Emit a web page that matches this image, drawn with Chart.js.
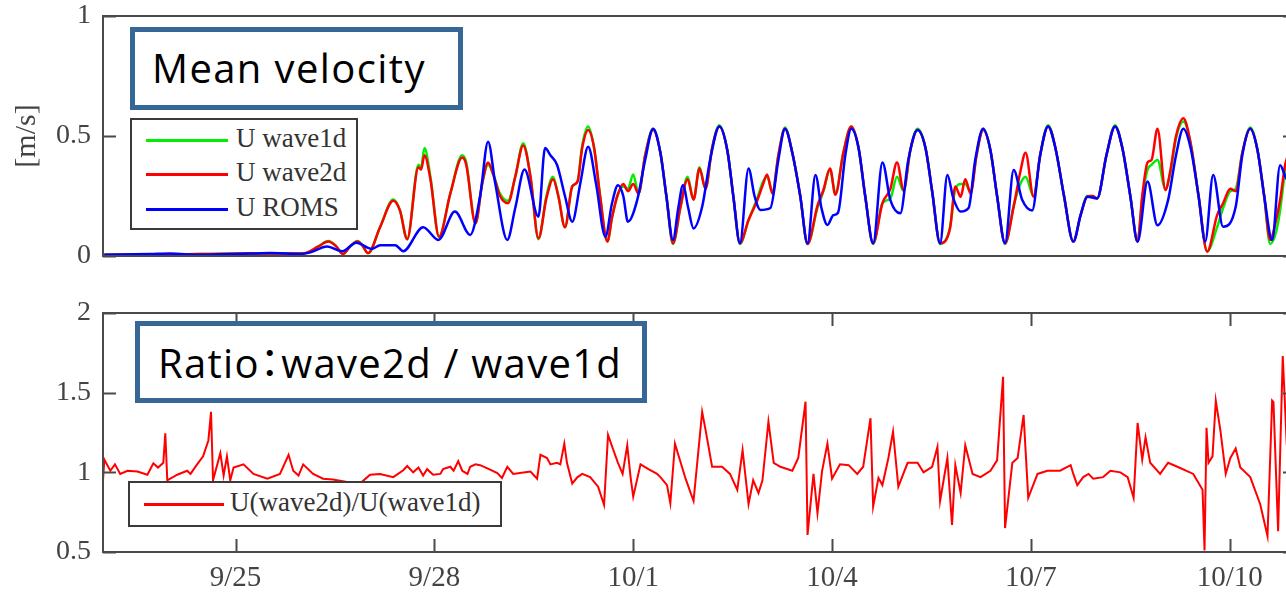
<!DOCTYPE html>
<html>
<head>
<meta charset="utf-8">
<script src="https://cdn.jsdelivr.net/npm/chart.js@4.4.1/dist/chart.umd.min.js"></script>
<style>
html,body{margin:0;padding:0;background:#fff;overflow:hidden;width:1286px;height:598px;}
#wrap{position:relative;width:1300px;height:598px;overflow:hidden;}
canvas{position:absolute;left:0;}
#c1{top:0;}
#c2{top:290px;}
.note{position:absolute;border:5px solid #366797;background:#fff;box-sizing:border-box;font-family:'Open Sans','Noto Sans',sans-serif;color:#000;white-space:nowrap;}
.note span.t{position:absolute;line-height:1;}
.palt{font-family:'Noto Sans CJK JP','Open Sans',sans-serif;font-feature-settings:"palt";}
.legend{position:absolute;border:2px solid #3a3a3a;background:#fff;box-sizing:border-box;font-family:'Liberation Serif','Times New Roman',serif;color:#333;}
.legend .sw{position:absolute;height:3px;}
.legend .lt{position:absolute;line-height:1;white-space:nowrap;}
</style>
</head>
<body>
<div id="wrap">
  <canvas id="c1" width="1300" height="270"></canvas>
  <canvas id="c2" width="1300" height="308"></canvas>
  <div class="note" style="left:130px;top:27px;width:333px;height:83px;">
    <span class="t" style="left:17px;top:16px;font-size:40px;letter-spacing:1.4px;">Mean velocity</span>
  </div>
  <div class="note" style="left:135px;top:321px;width:512px;height:82px;">
    <span class="t" style="left:18px;top:15px;font-size:40px;letter-spacing:1.3px;">Ratio<span class="palt">：</span>wave2d / wave1d</span>
  </div>
  <div class="legend" id="leg1" style="left:130px;top:118px;width:228px;height:112px;"></div>
  <div class="legend" id="leg2" style="left:128px;top:481px;width:374px;height:46px;"></div>
</div>
<script>
// ---- x axis (days since 9/23 00:00) ----
const xTickDays   = [2, 5, 8, 11, 14, 17];
const xTickLabels = ['9/25', '9/28', '10/1', '10/4', '10/7', '10/10'];
const xMin = 0, xMax = 18;

// ---- top panel: mean velocity [m/s] ----
const velTicks = [0, 0.5, 1];
const tVel = [0.02,0.71,1.47,2.22,2.82,3.05,3.25,3.40,3.52,3.62,3.73,3.84,3.91,4.00,4.18,4.38,4.48,4.59,4.76,4.80,4.85,4.94,5.07,5.24,5.42,5.48,5.62,5.72,5.81,5.90,5.99,6.11,6.22,6.34,6.45,6.57,6.69,6.79,6.87,6.97,7.08,7.16,7.23,7.32,7.41,7.50,7.61,7.68,7.76,7.85,7.92,8.00,8.08,8.18,8.30,8.41,8.50,8.60,8.71,8.82,8.91,9.00,9.09,9.19,9.30,9.42,9.51,9.61,9.74,9.87,9.96,10.02,10.10,10.19,10.29,10.40,10.52,10.63,10.78,10.87,10.97,11.05,11.17,11.29,11.40,11.50,11.62,11.76,11.88,11.98,12.08,12.18,12.29,12.41,12.51,12.63,12.78,12.86,12.94,13.01,13.09,13.18,13.28,13.39,13.49,13.61,13.74,13.84,13.92,14.04,14.14,14.26,14.37,14.50,14.64,14.75,14.85,14.93,15.00,15.14,15.27,15.38,15.50,15.61,15.68,15.76,15.82,15.91,16.03,16.10,16.19,16.30,16.41,16.53,16.66,16.81,16.90,17.01,17.09,17.19,17.31,17.42,17.52,17.61,17.70,17.76,17.84,17.94];
const uWave2d = [0.005,0.005,0.008,0.01,0.01,0.012,0.04,0.06,0.04,0.008,0.04,0.06,0.045,0.012,0.12,0.23,0.19,0.07,0.37,0.36,0.42,0.32,0.08,0.26,0.41,0.38,0.136,0.30,0.39,0.33,0.25,0.22,0.33,0.46,0.33,0.074,0.24,0.32,0.25,0.12,0.29,0.31,0.45,0.525,0.45,0.25,0.06,0.16,0.25,0.30,0.27,0.30,0.26,0.42,0.525,0.43,0.25,0.053,0.20,0.32,0.235,0.365,0.28,0.45,0.54,0.44,0.25,0.053,0.15,0.23,0.30,0.34,0.26,0.42,0.53,0.43,0.25,0.05,0.21,0.275,0.365,0.255,0.43,0.54,0.45,0.25,0.053,0.22,0.28,0.39,0.275,0.44,0.525,0.45,0.27,0.053,0.115,0.29,0.247,0.32,0.26,0.42,0.525,0.44,0.25,0.053,0.205,0.35,0.43,0.247,0.42,0.54,0.45,0.25,0.06,0.17,0.247,0.25,0.24,0.42,0.54,0.45,0.25,0.06,0.25,0.39,0.40,0.53,0.275,0.35,0.50,0.574,0.47,0.25,0.018,0.17,0.22,0.28,0.27,0.43,0.53,0.44,0.25,0.067,0.15,0.233,0.385,0.45];
const uWave1d = [0.005,0.005,0.008,0.01,0.01,0.012,0.04,0.062,0.04,0.008,0.04,0.062,0.045,0.012,0.12,0.235,0.19,0.07,0.38,0.37,0.45,0.33,0.08,0.26,0.42,0.39,0.136,0.30,0.38,0.33,0.26,0.23,0.33,0.47,0.33,0.07,0.25,0.33,0.25,0.12,0.29,0.31,0.46,0.54,0.45,0.25,0.06,0.16,0.25,0.29,0.28,0.34,0.26,0.42,0.53,0.43,0.25,0.05,0.20,0.33,0.235,0.37,0.28,0.45,0.545,0.44,0.25,0.05,0.15,0.24,0.31,0.33,0.27,0.42,0.535,0.43,0.25,0.05,0.20,0.27,0.36,0.26,0.43,0.54,0.45,0.25,0.05,0.22,0.24,0.33,0.27,0.44,0.53,0.45,0.27,0.05,0.12,0.28,0.30,0.30,0.27,0.42,0.53,0.44,0.25,0.05,0.21,0.30,0.33,0.25,0.42,0.545,0.45,0.25,0.06,0.17,0.25,0.25,0.24,0.42,0.545,0.45,0.25,0.06,0.24,0.36,0.38,0.40,0.28,0.34,0.49,0.56,0.47,0.25,0.02,0.12,0.20,0.27,0.28,0.43,0.535,0.44,0.25,0.05,0.10,0.19,0.36,0.44];
const tRoms = [0.02,0.71,1.01,1.47,2.22,2.52,2.98,3.13,3.38,3.61,3.82,4.06,4.18,4.41,4.53,4.83,5.06,5.31,5.54,5.69,5.81,5.92,6.10,6.22,6.36,6.57,6.67,6.75,6.85,6.97,7.08,7.20,7.32,7.44,7.58,7.68,7.77,7.85,7.92,8.06,8.18,8.30,8.41,8.50,8.60,8.68,8.75,8.83,8.91,9.04,9.16,9.30,9.42,9.51,9.61,9.74,9.83,9.92,10.07,10.19,10.29,10.40,10.52,10.63,10.75,10.84,10.93,11.02,11.09,11.20,11.29,11.40,11.50,11.62,11.76,11.88,12.03,12.15,12.29,12.41,12.51,12.63,12.74,12.83,12.94,13.06,13.16,13.28,13.39,13.49,13.61,13.74,13.87,14.02,14.14,14.26,14.37,14.50,14.64,14.75,14.85,15.00,15.14,15.27,15.38,15.50,15.61,15.76,15.91,16.07,16.19,16.30,16.41,16.53,16.63,16.75,16.90,17.09,17.19,17.31,17.42,17.52,17.64,17.76,17.84,17.94];
const uRoms = [0.005,0.008,0.01,0.005,0.01,0.012,0.008,0.015,0.04,0.02,0.055,0.03,0.045,0.045,0.02,0.12,0.067,0.185,0.088,0.25,0.476,0.30,0.067,0.20,0.36,0.164,0.45,0.42,0.38,0.25,0.143,0.30,0.455,0.30,0.08,0.22,0.295,0.25,0.143,0.233,0.40,0.53,0.43,0.25,0.067,0.20,0.295,0.20,0.115,0.205,0.40,0.54,0.44,0.25,0.053,0.365,0.25,0.192,0.20,0.40,0.53,0.43,0.25,0.053,0.338,0.20,0.129,0.17,0.18,0.42,0.53,0.45,0.25,0.053,0.39,0.233,0.178,0.40,0.525,0.45,0.27,0.053,0.338,0.24,0.185,0.20,0.40,0.53,0.44,0.25,0.053,0.358,0.233,0.19,0.42,0.54,0.45,0.25,0.06,0.17,0.247,0.24,0.42,0.54,0.45,0.25,0.06,0.31,0.128,0.233,0.42,0.53,0.45,0.25,0.06,0.338,0.122,0.205,0.42,0.53,0.44,0.25,0.067,0.378,0.33,0.28];

// ---- bottom panel: ratio U(wave2d)/U(wave1d) ----
const ratioTicks = [0.5, 1, 1.5, 2];
const tRatio = [0.00,0.02,0.11,0.18,0.26,0.37,0.52,0.67,0.76,0.83,0.91,0.94,0.97,1.12,1.27,1.32,1.42,1.51,1.59,1.63,1.66,1.77,1.82,1.87,1.92,1.97,2.12,2.27,2.48,2.67,2.80,2.87,2.95,3.02,3.17,3.32,3.47,3.68,3.85,4.03,4.18,4.38,4.53,4.59,4.68,4.76,4.83,4.89,4.98,5.09,5.13,5.24,5.29,5.36,5.42,5.50,5.54,5.62,5.69,5.80,5.95,6.02,6.10,6.19,6.37,6.45,6.55,6.60,6.70,6.75,6.85,6.90,6.96,7.00,7.08,7.16,7.23,7.35,7.47,7.56,7.62,7.70,7.77,7.84,7.91,7.96,8.00,8.11,8.23,8.36,8.41,8.51,8.56,8.63,8.68,8.79,8.91,9.04,9.09,9.19,9.34,9.46,9.57,9.65,9.74,9.81,9.89,9.95,10.04,10.12,10.22,10.40,10.49,10.60,10.63,10.72,10.78,10.85,10.93,11.00,11.12,11.25,11.38,11.47,11.58,11.62,11.70,11.76,11.85,11.92,12.00,12.14,12.29,12.38,12.51,12.59,12.63,12.74,12.81,12.86,12.94,13.01,13.12,13.24,13.39,13.49,13.58,13.61,13.72,13.80,13.89,13.96,14.10,14.25,14.44,14.60,14.64,14.70,14.79,14.87,14.94,15.09,15.20,15.35,15.46,15.55,15.61,15.68,15.73,15.80,15.95,16.07,16.21,16.45,16.59,16.62,16.65,16.68,16.74,16.79,16.86,16.94,17.01,17.09,17.16,17.31,17.46,17.57,17.64,17.66,17.73,17.80,17.86,17.94];
const ratio = [0.95,1.08,1.01,1.05,0.99,1.01,1.005,0.985,1.057,1.03,1.06,1.245,0.95,0.985,1.01,0.99,1.05,1.10,1.20,1.38,0.95,1.12,0.98,1.10,0.95,1.03,1.05,0.99,0.96,0.99,1.11,1.01,0.98,1.05,0.99,0.96,0.955,0.94,0.92,0.985,0.99,0.97,1.013,1.04,1.00,1.03,0.98,1.02,0.985,0.99,1.02,1.035,1.01,1.07,1.01,0.99,1.035,1.05,1.045,1.025,0.995,0.965,1.035,0.99,1.00,1.005,0.96,1.11,1.09,1.05,1.06,1.05,1.18,1.06,0.93,0.97,0.99,0.97,0.91,0.795,1.235,1.14,1.06,0.99,1.17,0.97,0.847,1.05,1.02,0.99,0.97,0.92,0.806,1.18,1.11,0.96,0.82,1.38,1.27,1.035,1.035,0.99,0.89,1.14,0.80,0.95,0.87,0.95,1.318,1.06,1.035,1.01,1.09,1.443,0.607,0.99,0.743,1.01,1.18,0.96,1.05,1.045,0.99,1.035,1.34,0.785,0.965,0.92,1.09,1.255,0.91,1.06,1.06,1.00,1.035,1.16,0.82,1.09,0.67,1.045,0.87,1.17,0.99,0.97,1.01,1.075,1.60,0.65,1.06,1.09,1.36,0.84,0.99,1.01,1.01,1.045,0.99,0.92,0.97,0.99,0.96,0.97,1.01,1.00,0.97,0.84,1.31,1.08,1.22,1.06,0.99,1.06,1.035,0.99,0.89,0.51,1.28,1.06,1.10,1.45,1.26,0.99,1.09,1.15,1.03,0.97,0.80,0.60,1.45,1.44,0.63,1.73,1.18,1.20];

const pts = (t, v) => t.map((x, i) => ({x: x, y: v[i]}));

Chart.defaults.font.family = "'Liberation Serif','Times New Roman',serif";
Chart.defaults.color = '#444';

const AXIS = '#4a4a4a';
const framePlugin = {
  id: 'frame',
  afterDatasetsDraw(chart, args, opts) {
    const {ctx, chartArea: a, scales} = chart;
    ctx.save();
    ctx.strokeStyle = AXIS;
    ctx.lineWidth = 2;
    ctx.strokeRect(a.left, a.top, a.right - a.left, a.bottom - a.top);
    const L = 13;
    ctx.beginPath();
    scales.y.ticks.forEach(t => {
      const py = Math.round(scales.y.getPixelForValue(t.value)) + 0.5;
      ctx.moveTo(a.left, py); ctx.lineTo(a.left + L, py);
      ctx.moveTo(a.right, py); ctx.lineTo(a.right - L, py);
    });
    if (opts.xTicks) {
      scales.x.ticks.forEach(t => {
        const px = Math.round(scales.x.getPixelForValue(t.value)) + 0.5;
        ctx.moveTo(px, a.bottom); ctx.lineTo(px, a.bottom - L);
        ctx.moveTo(px, a.top); ctx.lineTo(px, a.top + L);
      });
    }
    ctx.stroke();
    ctx.restore();
  }
};

function xScale(showLabels, height) {
  return {
    type: 'linear', min: xMin, max: xMax,
    display: showLabels,
    grid: {display: false, drawTicks: false},
    border: {display: false},
    afterBuildTicks: s => { s.ticks = xTickDays.map(v => ({value: v})); },
    afterFit: s => { s.height = height; s.paddingLeft = 0; s.paddingRight = 0; },
    ticks: {
      maxRotation: 0, autoSkip: false, padding: 9,
      font: {size: 29}, color: '#444',
      callback: v => { const i = xTickDays.indexOf(v); return i >= 0 ? xTickLabels[i] : ''; }
    }
  };
}
function yScale(min, max, tickVals, title) {
  return {
    type: 'linear', min: min, max: max,
    grid: {display: false, drawTicks: false},
    border: {display: false},
    afterBuildTicks: s => { s.ticks = tickVals.map(v => ({value: v})); },
    afterFit: s => { s.width = 103; s.paddingTop = 0; s.paddingBottom = 0; },
    ticks: {padding: 12, font: {size: 28}, color: '#444', callback: v => String(v)},
    title: title ? {display: true, text: title, font: {size: 30}, color: '#444', padding: {top: 9, bottom: 0}} : {display: false}
  };
}

const chartTop = new Chart(document.getElementById('c1'), {
  type: 'line',
  data: {
    datasets: [
      {label: 'U wave1d', order: 3, data: pts(tVel, uWave1d), borderColor: '#00ee00', borderWidth: 2.5, pointRadius: 0, cubicInterpolationMode: 'monotone'},
      {label: 'U wave2d', order: 2, data: pts(tVel, uWave2d), borderColor: '#ff0000', borderWidth: 2.5, pointRadius: 0, cubicInterpolationMode: 'monotone'},
      {label: 'U ROMS',   order: 1, data: pts(tRoms, uRoms),  borderColor: '#0000ff', borderWidth: 2.5, pointRadius: 0, cubicInterpolationMode: 'monotone'}
    ]
  },
  options: {
    responsive: false, animation: false, devicePixelRatio: 1,
    layout: {padding: {top: 16, right: 4, bottom: 14, left: 0}},
    plugins: {legend: {display: false}, tooltip: {enabled: false}, frame: {xTicks: false}},
    scales: {x: xScale(false, 0), y: yScale(0, 1, velTicks, '[m/s]')}
  },
  plugins: [framePlugin]
});

const chartBottom = new Chart(document.getElementById('c2'), {
  type: 'line',
  data: {
    datasets: [
      {label: 'U(wave2d)/U(wave1d)', data: pts(tRatio, ratio), borderColor: '#ff0000', borderWidth: 2, pointRadius: 0, tension: 0}
    ]
  },
  options: {
    responsive: false, animation: false, devicePixelRatio: 1,
    layout: {padding: {top: 23, right: 4, bottom: 0, left: 0}},
    plugins: {legend: {display: false}, tooltip: {enabled: false}, frame: {xTicks: true}},
    scales: {x: xScale(true, 46), y: yScale(0.5, 2, ratioTicks, null)}
  },
  plugins: [framePlugin]
});

// HTML legends built from the chart datasets
function buildLegend(el, chart, rows) {
  chart.data.datasets.forEach((ds, i) => {
    const r = rows[i];
    const sw = document.createElement('div');
    sw.className = 'sw';
    sw.style.cssText = `left:${r.lx}px;width:${r.lw}px;top:${r.y - 1.5}px;background:${ds.borderColor};`;
    const tx = document.createElement('div');
    tx.className = 'lt';
    tx.style.cssText = `left:${r.tx}px;top:${r.y - r.fs * 0.55}px;font-size:${r.fs}px;`;
    tx.textContent = ds.label;
    el.appendChild(sw); el.appendChild(tx);
  });
}
buildLegend(document.getElementById('leg1'), chartTop, [
  {lx: 14, lw: 82, y: 20, tx: 104, fs: 27},
  {lx: 14, lw: 82, y: 54, tx: 104, fs: 27},
  {lx: 14, lw: 82, y: 89, tx: 104, fs: 27}
]);
buildLegend(document.getElementById('leg2'), chartBottom, [
  {lx: 14, lw: 80, y: 21, tx: 100, fs: 27}
]);
</script>
</body>
</html>
